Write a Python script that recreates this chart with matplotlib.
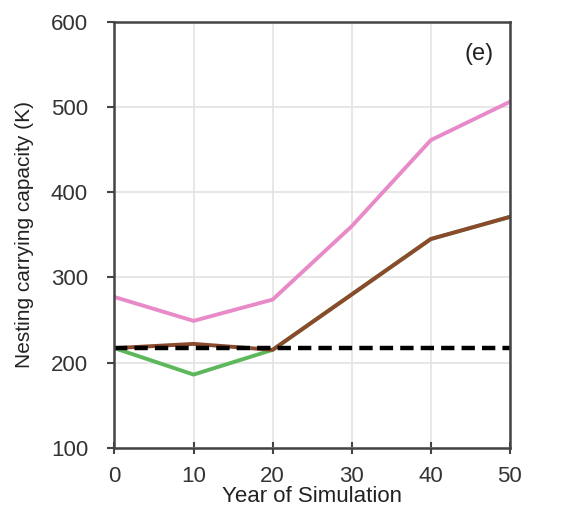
import matplotlib.pyplot as plt

plt.rcParams['font.family'] = ['Liberation Sans', 'DejaVu Sans']

# Simulation years and nesting carrying capacity per scenario
years = [0, 10, 20, 30, 40, 50]
k_pink = [277, 249, 274, 360, 461, 506]
k_brown = [217, 222, 215, 280, 345, 371]
k_green = [217, 186, 215, 280, 345, 371]
k_base = [217, 217, 217, 217, 217, 217]

fig = plt.figure(figsize=(5.64, 5.16), dpi=100)
ax = fig.add_axes([0.203, 0.132, 0.701, 0.826])

ax.grid(True, color='#e3e3e3', linewidth=1.2)
ax.set_axisbelow(True)

ax.plot(years, k_green, color='#5cb85a', linewidth=2.8)
ax.plot(years, k_pink, color='#e88ac8', linewidth=2.8)
ax.plot(years, k_brown, color='#8b4a2b', linewidth=2.8)
ax.plot(years, k_base, color='black', linewidth=3.2, linestyle=(0, (3.0, 1.6)))

ax.set_xlim(0, 50)
ax.set_ylim(100, 600)
ax.set_xticks(years)
ax.set_yticks([100, 200, 300, 400, 500, 600])

for s in ax.spines.values():
    s.set_color('#444444')
    s.set_linewidth(1.8)

ax.tick_params(axis='x', direction='inout', length=8, width=1.5, pad=9,
               labelsize=16, colors='#444444', labelcolor='#333333')
ax.tick_params(axis='y', direction='out', length=5, width=1.5, pad=14,
               labelsize=16, colors='#444444', labelcolor='#333333')

ax.set_xlabel('Year of Simulation', fontsize=16, color='#222222', labelpad=-1)
ax.set_ylabel('Nesting carrying capacity (K)', fontsize=15, color='#222222', labelpad=12)

ax.text(0.96, 0.925, '(e)', transform=ax.transAxes, ha='right', va='center',
        fontsize=17, color='#222222')

fig.savefig('out.png', dpi=100)
